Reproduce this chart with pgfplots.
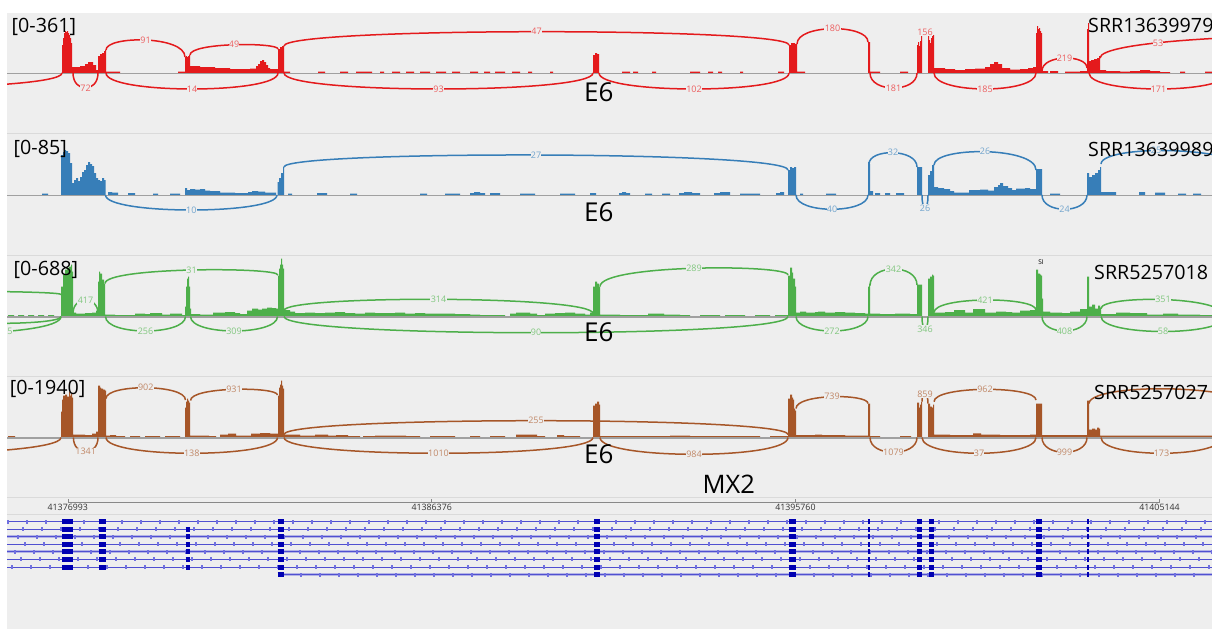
\documentclass[border=0pt]{standalone}
\usepackage{pgfplots}
\pgfplotsset{compat=1.18}
\usepackage{fontspec}
\setmainfont{Open Sans}
\definecolor{bgc}{HTML}{EEEEEE}
\definecolor{sepc}{HTML}{DADADA}
\definecolor{basec}{HTML}{A0A0A0}
\definecolor{cred}{HTML}{E41A1C}
\definecolor{cblue}{HTML}{377EB8}
\definecolor{cgreen}{HTML}{4DAF4A}
\definecolor{cbrown}{HTML}{A65628}
\definecolor{exonc}{HTML}{0000B2}
\definecolor{intronc}{HTML}{5050D0}
\definecolor{bandc}{HTML}{B4B4E6}
\definecolor{tickc}{HTML}{7070E0}
\definecolor{rulerc}{HTML}{888888}
\newcommand\labfont{\fontsize{9}{9.5}\selectfont}
\newcommand\bigf{\fontsize{19.7}{22}\selectfont}
\newcommand\hugef{\fontsize{26}{28}\selectfont}
\tikzset{lab/.style={font=\labfont, fill=bgc, inner sep=0.3pt, text=#1!70!white}}
\pgfplotsset{panel/.style={scale only axis, width=1205pt, xmin=7, xmax=1212, hide axis, clip=true, anchor=north west}}
% junction arc: colour, x1, cov1, x2, cov2, control height, label
\newcommand\sj[7]{\addplot[draw=#1, line width=1.5pt] coordinates {(#2,#3)} .. controls (axis cs:#2,#6) and (axis cs:#4,#6) .. (axis cs:#4,#5) node[pos=0.5, lab=#1] {#7};}
\newcommand\sjn[6]{\addplot[draw=#1, line width=1.5pt] coordinates {(#2,#3)} .. controls (axis cs:#2,#6) and (axis cs:#4,#6) .. (axis cs:#4,#5);}
\newcommand\baseline{\addplot[basec, line width=1.3pt] coordinates {(7,-0.6) (1212,-0.6)};}
% transcripts
\newcommand\rowline[2]{\addplot[intronc, line width=1pt] coordinates {(#2,#1) (1212,#1)};}
\newcommand\rowband[2]{\addplot[bandc, line width=3pt] coordinates {(#2,#1) (1212,#1)};}
\newcommand\rowticks[3]{\addplot[tickc, line width=4pt, dash pattern=on 1.8pt off 17.2pt, dash phase=#3] coordinates {(#2,#1) (1212,#1)};}
\newcommand\exA[1]{\addplot[exonc, line width=5pt, unbounded coords=jump] coordinates {(62,#1)(73,#1)(80,nan)(98.5,#1)(106,#1)(110,nan)(277.5,#1)(284,#1)(290,nan)(594,#1)(600,#1)(610,nan)(788.5,#1)(796,#1)(800,nan)(867.7,#1)(870,#1)(875,nan)(917,#1)(922,#1)(925,nan)(929,#1)(934,#1)(940,nan)(1036,#1)(1042,#1)(1050,nan)(1087,#1)(1089.3,#1)};}
\newcommand\exB[1]{\exA{#1}\addplot[exonc, line width=5pt] coordinates {(185.5,#1)(190,#1)};}
\newcommand\exC[1]{\addplot[exonc, line width=5pt, unbounded coords=jump] coordinates {(277.5,#1)(284,#1)(290,nan)(594,#1)(600,#1)(610,nan)(788.5,#1)(796,#1)(800,nan)(867.7,#1)(870,#1)(875,nan)(917,#1)(922,#1)(925,nan)(929,#1)(934,#1)(940,nan)(1036,#1)(1042,#1)(1050,nan)(1087,#1)(1089.3,#1)};}
\begin{document}
\begin{tikzpicture}
\fill[white] (0,0) rectangle (1212pt,-629pt);
\fill[bgc] (7pt,-13pt) rectangle (1212pt,-629pt);
\foreach \yy in {133,255,376,497,514} {\draw[sepc, line width=1pt] (7pt,-\yy pt) -- (1212pt,-\yy pt);}

% ---------------- panel 1 : SRR13639979 ----------------
\begin{axis}[panel, at={(7pt,-13pt)}, height=120pt, ymin=-60, ymax=60]
\addplot[fill=cred, draw=none, const plot] coordinates {(7,0) (62,28) (63,35) (64,40) (65,42) (66,41) (67,42) (68,40) (69,38) (70,35) (71,30) (72,6) (80,7) (85,9) (88,11) (93,8) (96,3) (98,17) (100,19) (102,20) (104,22) (105,23) (106,1.5) (120,0) (178,1.5) (185,16) (186,17) (187,16) (188,17) (189,18) (190,7) (200,6) (215,5) (230,4) (250,4.5) (256,7) (258,9) (260,12) (262,13) (264,11) (266,8) (268,5) (270,4) (278,24) (280,26) (282,27) (284,1.5) (290,0) (318,1.5) (325,0) (340,1.5) (348,0) (356,1.5) (372,0) (380,1.5) (384,0) (392,1.5) (400,0) (406,1.5) (414,0) (420,1.5) (430,0) (436,1.5) (446,0) (452,1.5) (460,0) (470,1.5) (478,0) (484,1.5) (490,0) (495,1.5) (505,0) (512,1.5) (520,0) (528,1.5) (532,0) (550,1.5) (553,0) (593,18) (595,20) (597,19) (599,0) (622,1.5) (630,0) (633,1.5) (638,0) (652,1.5) (656,0) (690,1.5) (700,0) (708,1.5) (713,0) (718,1.5) (722,0) (740,1.5) (743,0) (778,1.5) (784,0) (789,28) (791,30) (793,30) (795,29) (797,1.5) (805,0) (868,31) (870,1.5) (880,0) (900,1.5) (908,0) (917,28) (918,31) (919,27) (920,32) (921,38) (922,0) (928,38) (929,33) (930,30) (931,35) (932,37) (933,38) (934,5) (945,4) (955,3) (965,4) (975,4.5) (985,6) (990,9) (994,11) (998,9) (1002,5) (1010,3.5) (1020,4) (1028,5) (1033,6) (1036,40) (1037,47) (1038,44) (1039,45) (1040,42) (1041,40) (1042,2) (1048,0) (1050,2) (1058,0) (1065,1.5) (1080,2) (1087,44) (1088,50) (1089,12) (1091,13) (1094,14) (1097,15) (1099,17) (1100,3) (1106,2) (1120,1.5) (1130,2) (1140,3) (1150,2) (1160,1) (1170,0) (1180,1.5) (1185,0) (1205,1.5) (1212,0)} \closedcycle;
\baseline
\sj{cred}{106}{23}{185}{16}{37.5}{91}
\sj{cred}{190}{18}{278}{24}{30.7}{49}
\sj{cred}{284}{27}{789}{28}{45.9}{47}
\sj{cred}{797}{29}{868}{31}{49.1}{180}
\sj{cred}{922}{38}{928}{38}{42}{156}
\sj{cred}{1042}{2}{1087}{5}{18.8}{219}
\sjn{cred}{1100}{15}{1700}{0}{48}
\node[lab=cred] at (axis cs:1158,30) {53};
\sjn{cred}{-300}{0}{62}{0}{-20}
\sj{cred}{73}{0}{98}{0}{-20}{72}
\sj{cred}{106}{0}{278}{0}{-21.3}{14}
\sj{cred}{284}{0}{593}{0}{-21.3}{93}
\sj{cred}{599}{0}{789}{0}{-21.3}{102}
\sj{cred}{870}{0}{917}{0}{-20}{181}
\sj{cred}{934}{0}{1036}{0}{-21.3}{185}
\sj{cred}{1089}{0}{1228}{0}{-21.3}{171}
\end{axis}

% ---------------- panel 2 : SRR13639989 ----------------
\begin{axis}[panel, at={(7pt,-133pt)}, height=122pt, ymin=-60, ymax=62]
\addplot[fill=cblue, draw=none, const plot] coordinates {(7,0) (42,1.5) (48,0) (61,40) (63,43) (65,45) (66,44) (68,42) (70,32) (72,12) (74,15) (76,17) (78,14) (80,18) (82,23) (84,25) (86,30) (88,33) (90,31) (92,29) (94,22) (96,17) (98,15) (100,14) (102,17) (104,15) (105.5,0) (108,3) (112,2.5) (118,0) (128,2) (135,0) (153,1.5) (158,0) (170,1.5) (180,0) (185,7) (187,5) (190,6) (195,5.5) (200,6) (205,4.5) (210,4) (220,2.5) (235,2) (248,3) (252,4) (258,3.5) (265,2.5) (276,0) (277.5,13) (279,17) (281,22) (283,28) (284,0) (288,1.5) (292,0) (317,2) (327,0) (350,1.5) (357,0) (420,1.5) (427,0) (445,1.5) (460,0) (470,2) (474,3) (480,2) (485,0) (490,2) (500,0) (520,1.5) (535,0) (560,1.5) (575,0) (590,2) (596,0) (619,2) (622,3) (626,2) (630,0) (645,1.5) (652,0) (662,1.5) (670,0) (679,2) (684,3) (692,2) (700,0) (714,2) (720,3) (730,0) (740,1.5) (760,0) (776,2) (780,3) (784,0) (788,25) (790,28) (792,27) (794,28) (796,0) (800,1.5) (803,0) (826,1.5) (836,0) (868,33) (869,31) (870,4) (873,0) (875,2) (880,0) (885,2) (890,0) (896,2) (904,0) (917,28) (922,0) (928,20) (930,24) (932,30) (934,8) (938,7) (944,6) (950,4) (954,2.5) (969,5) (980,5.5) (988,4.5) (994,8) (998,10) (1000,12) (1003,9) (1008,7) (1012,5) (1016,6.5) (1025,7) (1030,6) (1035,6) (1036,26) (1042,0) (1050,1.5) (1060,0) (1087,22) (1089,18) (1092,20) (1095,22) (1098,25) (1100,28) (1101,3) (1116,0) (1139,3) (1145,0) (1155,2.5) (1165,0) (1178,1.5) (1186,0) (1193,1.5) (1201,0) (1212,0)} \closedcycle;
\baseline
\sj{cblue}{284}{28}{788}{25}{44.5}{27}
\sj{cblue}{869}{31}{917}{28}{46.6}{32}
\sj{cblue}{934}{30}{1036}{25}{48.6}{26}
\sjn{cblue}{1101}{31}{1280}{0}{52.5}
\node[lab=cblue] at (axis cs:1156,44.5) {25};
\sj{cblue}{105.5}{0}{277}{0}{-20}{10}
\sj{cblue}{796}{0}{868}{0}{-19}{40}
\sj{cblue}{922}{0}{928}{0}{-17.3}{26}
\sj{cblue}{1042}{0}{1087}{0}{-19}{24}
\end{axis}

% ---------------- panel 3 : SRR5257018 ----------------
\begin{axis}[panel, at={(7pt,-255pt)}, height=121pt, ymin=-59.5, ymax=61.5]
\addplot[fill=cgreen, draw=none, const plot] coordinates {(7,0) (8,1.5) (14,0) (18,1.5) (24,0) (28,1.5) (34,0) (38,1.5) (44,0) (48,1.5) (54,0) (61,30) (63,42) (65,47) (67,49) (69,50) (71,52) (72,45) (73,4) (76,3) (85,3.5) (92,4) (96,6) (98,35) (99,45) (100,43) (102,37) (104,33) (105,2) (115,1.5) (135,3) (145,2.5) (150,3.5) (162,2) (170,3) (182,1.5) (185,10) (186,30) (187,38) (188,40) (189,30) (190,8) (191,2.5) (200,2) (213,4) (225,4.5) (235,3.5) (240,2.5) (247,6) (252,8) (258,7) (262,8) (267,9) (272,8.5) (276,8) (278,41) (279,48) (280,52) (281,58) (282,52) (283,48) (284,6.5) (290,5) (295,3.5) (305,4) (315,3.5) (325,4) (335,4.5) (345,3.5) (355,3) (365,4) (375,3.5) (385,3.5) (395,4) (405,3) (415,3.5) (425,3) (440,3) (455,2.5) (470,2) (480,1.5) (505,0) (510,3) (516,4) (530,3) (537,1.5) (545,3) (555,3.5) (565,4) (575,3) (585,2) (590,4) (593,30) (595,35) (597,33) (599,30) (600,2) (620,1.5) (648,3) (664,2) (680,1.5) (690,0) (700,1.5) (720,0) (725,1.5) (745,0) (755,1.5) (770,0) (775,1.5) (788,41) (790,49) (792,44) (793,38) (795,30) (796,4) (800,5) (806,4) (815,4.5) (818,5) (825,4) (835,4.5) (845,4) (855,3.5) (865,3) (868,30) (869,33) (870,3) (880,2.5) (895,3) (910,2.5) (917,32) (922,0) (928,38) (930,40) (932,42) (933,41) (934,4) (945,4.5) (954,6.5) (965,4) (973,7.5) (985,4) (996,5) (1006,4.5) (1012,4) (1020,6) (1030,6.5) (1036,47) (1038,43) (1040,42) (1041,41) (1042,18) (1043,5) (1050,4) (1062,3.5) (1070,5) (1080,7.5) (1087,40) (1089,10) (1092,12) (1095,8) (1098,11) (1100,9) (1101,2.5) (1116,4) (1130,3.5) (1147,2) (1163,3) (1178,2) (1200,1.5) (1212,0)} \closedcycle;
\baseline
\sjn{cgreen}{-400}{0}{61}{22}{28}
\sj{cgreen}{73}{3}{98}{3}{21}{417}
\sj{cgreen}{105}{33}{278}{41.5}{49.6}{31}
\sj{cgreen}{284}{6}{593}{3}{21.4}{314}
\sj{cgreen}{600}{30}{788}{41.5}{52.4}{289}
\sj{cgreen}{870}{31}{917}{31.5}{52.9}{342}
\sj{cgreen}{934}{4}{1036}{6.5}{20.25}{421}
\sj{cgreen}{1101}{8}{1225}{0}{21.3}{351}
\sjn{cgreen}{-60}{0}{61}{0}{-9.1}
\sjn{cgreen}{-150}{0}{61}{0}{-22.3}
\node[lab=cgreen] at (axis cs:10,-14.5) {5};
\sj{cgreen}{105.5}{0}{185.5}{0}{-19.3}{256}
\sj{cgreen}{190.5}{0}{277.5}{0}{-19.3}{309}
\sj{cgreen}{284}{0}{788}{0}{-21.6}{90}
\sj{cgreen}{796}{0}{868}{0}{-19.3}{272}
\sj{cgreen}{922}{0}{928}{0}{-16.7}{346}
\sj{cgreen}{1042}{0}{1087}{0}{-19.3}{408}
\sj{cgreen}{1101}{0}{1225}{0}{-20}{58}
\end{axis}

% ---------------- panel 4 : SRR5257027 ----------------
\begin{axis}[panel, at={(7pt,-376pt)}, height=121pt, ymin=-59.5, ymax=61.5]
\addplot[fill=cbrown, draw=none, const plot] coordinates {(7,0) (8,1.5) (15,0) (61,26) (62,38) (63,42) (65,43) (67,41) (69,46) (70,42) (71,44) (72,40) (73,3) (85,2.5) (92,4) (96,6) (98,52) (100,50) (101,49) (103,48) (105,47) (106,2) (110,2.5) (116,1.5) (125,0) (130,1.5) (140,0) (145,1.5) (160,0) (165,1.5) (180,0) (185,30) (186,36) (187,39) (188,37) (189,35) (190,2) (209,1.5) (216,0) (220,3) (228,4) (236,2) (251,4) (260,4.5) (270,4) (276,4) (278,42) (279,50) (280,53) (281,57) (282,52) (283,49) (284,3) (300,2) (315,3) (328,2) (336,2.5) (348,1.5) (360,0) (363,1.5) (375,2) (390,2) (406,1.5) (420,0) (430,1.5) (455,0) (470,1.5) (480,0) (490,1.5) (505,0) (516,3) (537,1.5) (545,0) (557,2.5) (564,1.5) (580,0) (593,32) (595,34) (597,36) (599,33) (600,1.5) (620,1.5) (650,1.5) (670,2) (690,1.5) (760,0) (770,1.5) (788,39) (790,43) (792,40) (793,38) (794,29) (795,27) (796,2.5) (815,3) (822,2.5) (845,2) (868,34) (870,1.5) (880,0) (900,1.5) (911,0) (917,35) (919,30) (920,33) (921,36) (922,0) (928,34) (930,31) (932,30) (933,33) (934,3) (950,2.5) (973,4.2) (981,3) (1000,2.5) (1030,3) (1036,34) (1042,2.5) (1087,37) (1089,8) (1092,9) (1095,8) (1097,10) (1099,9) (1100,2) (1212,0)} \closedcycle;
\baseline
\sj{cbrown}{106}{39}{185.5}{37.5}{53.6}{902}
\sj{cbrown}{190.5}{37}{277.5}{42.5}{51}{931}
\sj{cbrown}{284}{3}{788}{3}{21.4}{255}
\sj{cbrown}{796}{29}{868}{34}{43.9}{739}
\sj{cbrown}{922}{36}{928}{34}{46.3}{859}
\sj{cbrown}{934}{35.8}{1036}{37.5}{52}{962}
\sjn{cbrown}{1089}{34}{1300}{0}{57.5}
\sjn{cbrown}{-300}{0}{61}{0}{-22.5}
\sj{cbrown}{73.4}{0}{98}{0}{-19}{1341}
\sj{cbrown}{106}{0}{277.5}{0}{-21}{138}
\sj{cbrown}{284}{0}{593}{0}{-21}{1010}
\sj{cbrown}{600}{0}{788}{0}{-22.4}{984}
\sj{cbrown}{870}{0}{917}{0}{-19.8}{1079}
\sj{cbrown}{922}{0}{1036}{0}{-21}{37}
\sj{cbrown}{1042}{0}{1087}{0}{-19.8}{999}
\sj{cbrown}{1101}{0}{1222}{0}{-21}{173}
\end{axis}

% ---------------- gene panel : MX2 ----------------
\begin{axis}[panel, at={(7pt,-497pt)}, height=132pt, ymin=-629, ymax=-497]
\addplot[rulerc, line width=1pt] coordinates {(68,-502) (1159.5,-502)};
\addplot[rulerc, line width=0.8pt, unbounded coords=jump] coordinates {(68,-502.5)(68,-498.5)(68,nan)(431.7,-502.5)(431.7,-498.5)(431.7,nan)(795.4,-502.5)(795.4,-498.5)(795.4,nan)(1159.5,-502.5)(1159.5,-498.5)};
% row bands and lines
\rowband{-536.8}{7}\rowband{-551.9}{7}\rowband{-574.5}{284}
\rowline{-521.7}{7}\rowline{-529.2}{7}\rowline{-536.8}{7}\rowline{-544.3}{7}\rowline{-551.9}{7}\rowline{-559.4}{7}\rowline{-567.0}{7}\rowline{-574.5}{284}
\rowticks{-521.7}{7}{0pt}\rowticks{-529.2}{7}{4pt}\rowticks{-536.8}{7}{9pt}\rowticks{-544.3}{7}{2pt}\rowticks{-551.9}{7}{12pt}\rowticks{-559.4}{7}{6pt}\rowticks{-567.0}{7}{15pt}\rowticks{-574.5}{284}{3pt}
\exA{-521.7}
\exB{-529.2}\exB{-536.8}\exB{-544.3}\exB{-551.9}\exB{-559.4}\exB{-567.0}
\exC{-574.5}
\end{axis}

% ---------------- texts ----------------
\begin{scope}[every node/.style={inner sep=0pt, text=black}]
\node[anchor=base west, font=\bigf] at (11.5pt,-32.3pt) {[0-361]};
\node[anchor=base west, font=\bigf] at (13.5pt,-154pt) {[0-85]};
\node[anchor=base west, font=\bigf] at (13.5pt,-275.7pt) {[0-688]};
\node[anchor=base west, font=\bigf] at (9.6pt,-394.3pt) {[0-1940]};
\node[anchor=base west, font=\bigf] at (1088pt,-32.3pt) {SRR13639979};
\node[anchor=base west, font=\bigf] at (1088pt,-156pt) {SRR13639989};
\node[anchor=base west, font=\bigf] at (1094pt,-279pt) {SRR5257018};
\node[anchor=base west, font=\bigf] at (1094pt,-399pt) {SRR5257027};
\node[anchor=base, font=\hugef] at (598.7pt,-101pt) {E6};
\node[anchor=base, font=\hugef] at (598.7pt,-221.7pt) {E6};
\node[anchor=base, font=\hugef] at (598.7pt,-341pt) {E6};
\node[anchor=base, font=\hugef] at (598.7pt,-463.3pt) {E6};
\node[anchor=base, font=\fontsize{25.5}{27}\selectfont] at (728.7pt,-493.3pt) {MX2};
\node[anchor=center, font=\fontsize{6.5}{7}\selectfont] at (1041pt,-262pt) {SI};
\node[anchor=base, font=\fontsize{8.8}{9}\selectfont, text=black!80] at (67.8pt,-510pt) {41376993};
\node[anchor=base, font=\fontsize{8.8}{9}\selectfont, text=black!80] at (431.7pt,-510pt) {41386376};
\node[anchor=base, font=\fontsize{8.8}{9}\selectfont, text=black!80] at (795.4pt,-510pt) {41395760};
\node[anchor=base, font=\fontsize{8.8}{9}\selectfont, text=black!80] at (1159.5pt,-510pt) {41405144};
\end{scope}
\pgfresetboundingbox
\path[use as bounding box] (0,0) rectangle (1212pt,-629pt);
\end{tikzpicture}
\end{document}
